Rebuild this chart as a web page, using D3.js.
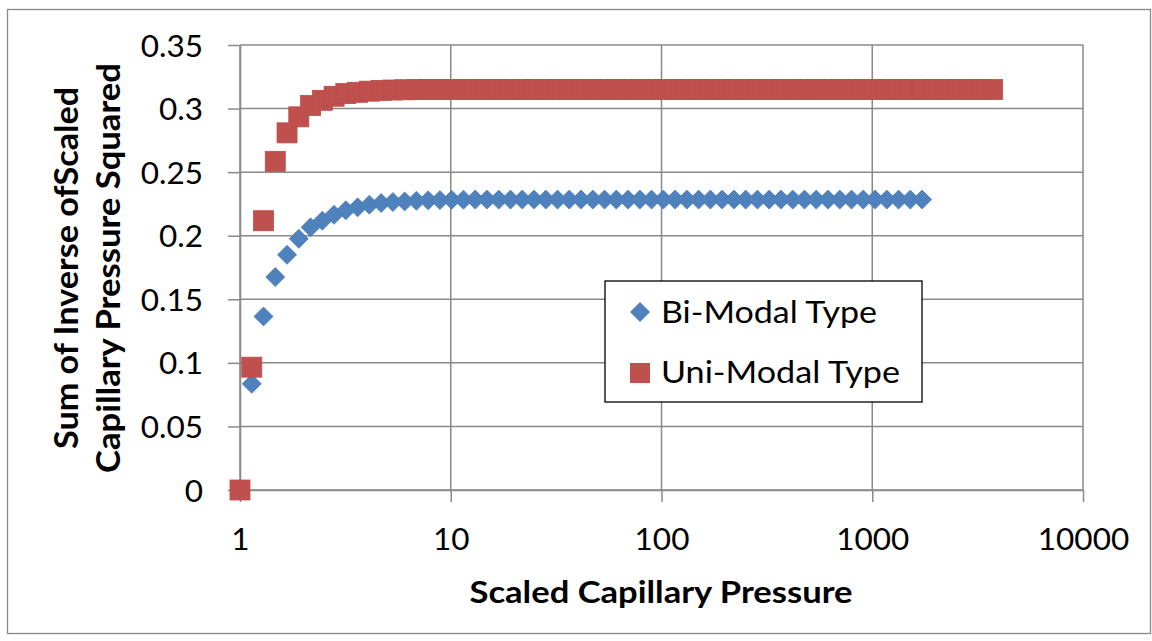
<!DOCTYPE html>
<html>
<head>
<meta charset="utf-8">
<script src="https://cdn.jsdelivr.net/npm/d3@7"></script>
<style>
  html, body { margin: 0; padding: 0; background: #fff; }
  svg { display: block; }
  text { font-family: Lato, "Open Sans", sans-serif; fill: #000; }
</style>
</head>
<body>
<svg id="chart" width="1152" height="641"></svg>
<script>
// ---- data ----
const biX = [1, 1.137, 1.293, 1.470, 1.672, 1.901, 2.162, 2.458, 2.795, 3.178,
  3.614, 4.110, 4.673, 5.314, 6.042, 6.871, 7.813, 8.884, 10.10, 11.49,
  13.06, 14.85, 16.89, 19.21, 21.84, 24.83, 28.24, 32.11, 36.51, 41.52,
  47.21, 53.68, 61.04, 69.41, 78.92, 89.74, 102.0, 116.0, 131.9, 150.0,
  170.6, 194.0, 220.6, 250.8, 285.2, 324.3, 368.8, 419.4, 476.9, 542.3,
  616.6, 701.2, 797.3, 906.6, 1031, 1172, 1333, 1516, 1724];
const biY = [0, 0.0835, 0.1365, 0.1675, 0.1850, 0.1976, 0.2066, 0.2118, 0.2165, 0.2200,
  0.2223, 0.2244, 0.2257, 0.2265, 0.2270, 0.2275, 0.2278, 0.2280, 0.2282, 0.2283,
  0.2284, 0.2284, 0.2284, 0.2284, 0.2284, 0.2284, 0.2284, 0.2284, 0.2284, 0.2284,
  0.2284, 0.2284, 0.2284, 0.2284, 0.2284, 0.2284, 0.2284, 0.2284, 0.2284, 0.2284,
  0.2284, 0.2284, 0.2284, 0.2284, 0.2284, 0.2284, 0.2284, 0.2284, 0.2284, 0.2284,
  0.2284, 0.2284, 0.2284, 0.2284, 0.2284, 0.2284, 0.2284, 0.2284, 0.2284];

const uniX = [1, 1.137, 1.293, 1.470, 1.672, 1.901, 2.162, 2.458, 2.795, 3.178,
  3.614, 4.110, 4.673, 5.314, 6.042, 6.871, 7.813, 8.884, 10.10, 11.49,
  13.06, 14.85, 16.89, 19.21, 21.84, 24.83, 28.24, 32.11, 36.51, 41.52,
  47.21, 53.68, 61.04, 69.41, 78.92, 89.74, 102.0, 116.0, 131.9, 150.0,
  170.6, 194.0, 220.6, 250.8, 285.2, 324.3, 368.8, 419.4, 476.9, 542.3,
  616.6, 701.2, 797.3, 906.6, 1031, 1172, 1333, 1516, 1724, 1960,
  2228, 2534, 2881, 3277, 3726];
const uniY = [0, 0.0966, 0.2118, 0.2585, 0.2809, 0.2935, 0.3024, 0.3065, 0.3097, 0.3118,
  0.3128, 0.3137, 0.3143, 0.3146, 0.3148, 0.3149, 0.3150, 0.3150, 0.3150, 0.3150,
  0.3150, 0.3150, 0.3150, 0.3150, 0.3150, 0.3150, 0.3150, 0.3150, 0.3150, 0.3150,
  0.3150, 0.3150, 0.3150, 0.3150, 0.3150, 0.3150, 0.3150, 0.3150, 0.3150, 0.3150,
  0.3150, 0.3150, 0.3150, 0.3150, 0.3150, 0.3150, 0.3150, 0.3150, 0.3150, 0.3150,
  0.3150, 0.3150, 0.3150, 0.3150, 0.3150, 0.3150, 0.3150, 0.3150, 0.3150, 0.3150,
  0.3150, 0.3150, 0.3150, 0.3150, 0.3150];

const seriesNames = ["Bi-Modal Type", "Uni-Modal Type"];
const xTicks = [1, 10, 100, 1000, 10000];
const xTickLabels = ["1", "10", "100", "1000", "10000"];
const yTicks = [0, 0.05, 0.1, 0.15, 0.2, 0.25, 0.3, 0.35];
const yTickLabels = ["0", "0.05", "0.1", "0.15", "0.2", "0.25", "0.3", "0.35"];
const xTitle = "Scaled Capillary Pressure";
const yTitleLines = ["Sum of Inverse ofScaled", "Capillary Pressure Squared"];

// ---- layout ----
const svg = d3.select("#chart");
const L = 240, R = 1083, T = 45, B = 490;
const gridColor = "#898989";
const blue = "#4F81BD", red = "#C0504D";

const x = d3.scaleLog().domain([1, 10000]).range([L, R]);
const y = d3.scaleLinear().domain([0, 0.35]).range([B, T]);

// outer frame
svg.append("rect").attr("x", 7.5).attr("y", 9.5).attr("width", 1143).attr("height", 624)
  .attr("fill", "#fff").attr("stroke", gridColor).attr("stroke-width", 1.3);

// gridlines
svg.append("g").selectAll("line").data(yTicks).join("line")
  .attr("x1", L).attr("x2", R).attr("y1", d => y(d)).attr("y2", d => y(d))
  .attr("stroke", gridColor).attr("stroke-width", 1.5);
svg.append("g").selectAll("line").data(xTicks).join("line")
  .attr("y1", T).attr("y2", B).attr("x1", d => x(d)).attr("x2", d => x(d))
  .attr("stroke", gridColor).attr("stroke-width", 1.5);

// axes
const yAxis = d3.axisLeft(y).tickValues(yTicks).tickSize(12).tickSizeOuter(0).tickPadding(25)
  .tickFormat((d, i) => yTickLabels[i]);
const gy = svg.append("g").attr("transform", `translate(${L},0)`).call(yAxis);
const xAxis = d3.axisBottom(x).tickValues(xTicks).tickSize(12).tickSizeOuter(0).tickPadding(26)
  .tickFormat((d, i) => xTickLabels[i]);
const gx = svg.append("g").attr("transform", `translate(0,${B})`).call(xAxis);
[gx, gy].forEach(g => {
  g.select(".domain").attr("stroke", gridColor).attr("stroke-width", 1.5);
  g.selectAll(".tick line").attr("stroke", gridColor).attr("stroke-width", 1.5);
  g.selectAll(".tick text").attr("font-family", "Lato, sans-serif").attr("font-size", 31.5).attr("fill", "#000");
});
gy.selectAll(".tick text").attr("dy", "0.35em");

// markers
const diamond = r => `M0,${-r}L${r},0L0,${r}L${-r},0Z`;
const biData = biX.map((v, i) => [v, biY[i]]);
const uniData = uniX.map((v, i) => [v, uniY[i]]);

svg.append("g").selectAll("path").data(biData).join("path")
  .attr("d", diamond(9.5))
  .attr("transform", d => `translate(${x(d[0])},${y(d[1])})`)
  .attr("fill", blue).attr("stroke", "#4A7EBB").attr("stroke-width", 0.8);

svg.append("g").selectAll("rect").data(uniData).join("rect")
  .attr("x", d => x(d[0]) - 10).attr("y", d => y(d[1]) - 10)
  .attr("width", 20).attr("height", 20)
  .attr("fill", red).attr("stroke", "#BE4B48").attr("stroke-width", 0.8);

// axis titles
svg.append("text").attr("x", 661).attr("y", 603).attr("text-anchor", "middle")
  .attr("font-size", 31).attr("font-weight", "bold")
  .attr("textLength", 383).attr("lengthAdjust", "spacingAndGlyphs")
  .text(xTitle);
const yTitleX = [78, 120];
const yTitleLen = [362, 410];
yTitleLines.forEach((t, i) => {
  svg.append("text").attr("transform", `translate(${yTitleX[i]},268) rotate(-90)`)
    .attr("text-anchor", "middle").attr("font-size", 32).attr("font-weight", "bold")
    .attr("textLength", yTitleLen[i]).attr("lengthAdjust", "spacingAndGlyphs")
    .text(t);
});

// legend
const lg = svg.append("g");
lg.append("rect").attr("x", 605).attr("y", 281).attr("width", 317).attr("height", 121)
  .attr("fill", "#fff").attr("stroke", "#000").attr("stroke-width", 1.3);
lg.append("path").attr("d", diamond(10)).attr("transform", "translate(640,312)").attr("fill", blue);
lg.append("rect").attr("x", 630).attr("y", 363).attr("width", 20).attr("height", 20).attr("fill", red);
const legendLen = [216, 239];
seriesNames.forEach((n, i) => {
  lg.append("text").attr("x", 661).attr("y", 323 + i * 60)
    .attr("font-size", 30)
    .attr("textLength", legendLen[i]).attr("lengthAdjust", "spacingAndGlyphs")
    .text(n);
});
</script>
</body>
</html>
